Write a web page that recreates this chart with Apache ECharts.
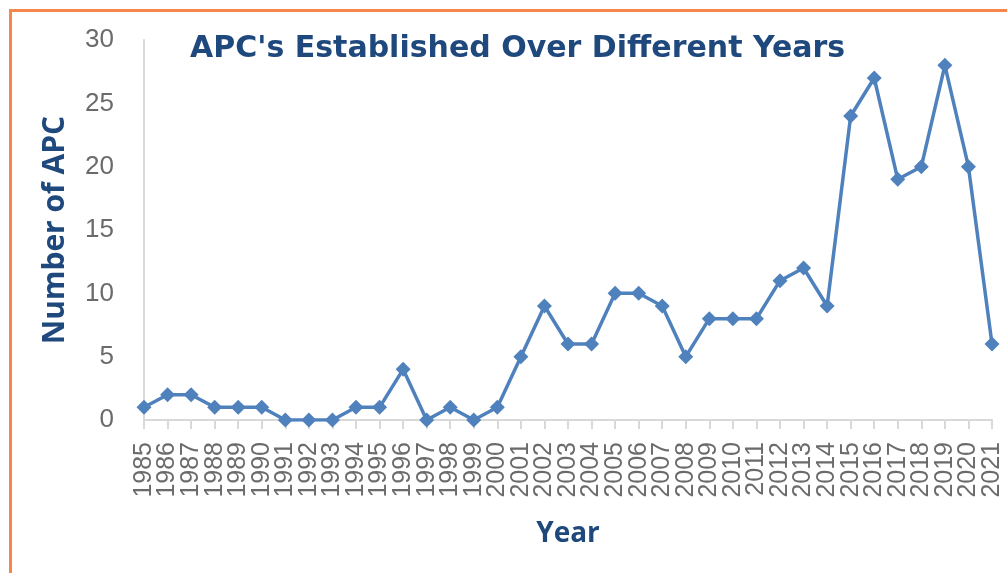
<!DOCTYPE html>
<html>
<head>
<meta charset="utf-8">
<script src="https://cdn.jsdelivr.net/npm/echarts@6/dist/echarts.min.js"></script>
<style>
    html, body {
        margin: 0;
        padding: 0;
        background: #fff;
        overflow: hidden;
    }
    #frame {
        position: absolute;
        left: 9px;
        top: 9px;
        width: 1100px;
        height: 700px;
        border: 3px solid #f5874a;
    }
    #chart {
        position: absolute;
        left: 0;
        top: 0;
        width: 1007px;
        height: 573px;
    }
</style>
</head>
<body>
<div id="frame"></div>
<div id="chart"></div>
<script>
// years on the x axis
const years = ['1985', '1986', '1987', '1988', '1989', '1990', '1991', '1992', '1993', '1994',
    '1995', '1996', '1997', '1998', '1999', '2000', '2001', '2002', '2003', '2004',
    '2005', '2006', '2007', '2008', '2009', '2010', '2011', '2012', '2013', '2014',
    '2015', '2016', '2017', '2018', '2019', '2020', '2021'];
// number of APC established each year
const apcCount = [1, 2, 2, 1, 1, 1, 0, 0, 0, 1,
    1, 4, 0, 1, 0, 1, 5, 9, 6, 6,
    10, 10, 9, 5, 8, 8, 8, 11, 12, 9,
    24, 27, 19, 20, 28, 20, 6];
const yTicks = [0, 5, 10, 15, 20, 25, 30];

const navy = '#1f497d';
const labelGrey = '#6b6b6b';

const chart = echarts.init(document.getElementById('chart'));
chart.setOption({
    animation: false,
    title: {
        text: "APC's Established Over Different Years",
        left: 185,
        top: 29,
        textStyle: {
            fontFamily: 'DejaVu Sans',
            fontWeight: 'bold',
            fontSize: 30,
            color: navy
        }
    },
    grid: {
        left: 144,
        right: 15,
        top: 40,
        bottom: 153
    },
    xAxis: {
        type: 'category',
        data: years,
        boundaryGap: false,
        name: 'Year',
        nameLocation: 'middle',
        nameGap: 100,
        nameMoveOverlap: false,
        nameTextStyle: {
            fontFamily: 'Open Sans',
            fontWeight: 'bold',
            fontSize: 28,
            color: navy
        },
        axisLine: { lineStyle: { color: '#d9d9d9', width: 2 } },
        axisTick: { show: true, length: 9, lineStyle: { color: '#d9d9d9', width: 2 } },
        axisLabel: {
            rotate: 90,
            interval: 0,
            margin: 22,
            fontFamily: 'Liberation Sans',
            fontSize: 25,
            color: labelGrey
        }
    },
    yAxis: {
        type: 'value',
        min: yTicks[0],
        max: yTicks[yTicks.length - 1],
        interval: 5,
        name: 'Number of APC',
        nameLocation: 'middle',
        nameGap: 74,
        nameMoveOverlap: false,
        nameTextStyle: {
            fontFamily: 'Open Sans',
            fontWeight: 'bold',
            fontSize: 30,
            color: navy
        },
        axisLine: { show: true, lineStyle: { color: '#d9d9d9', width: 2 } },
        axisTick: { show: false },
        splitLine: { show: false },
        axisLabel: {
            margin: 30,
            fontFamily: 'Liberation Sans',
            fontSize: 26,
            color: labelGrey
        }
    },
    series: [
        {
            name: 'APC',
            type: 'line',
            data: apcCount,
            symbol: 'diamond',
            symbolSize: 15,
            lineStyle: { color: '#4f81bd', width: 3.5 },
            itemStyle: { color: '#4f81bd' }
        }
    ]
});
</script>
</body>
</html>
